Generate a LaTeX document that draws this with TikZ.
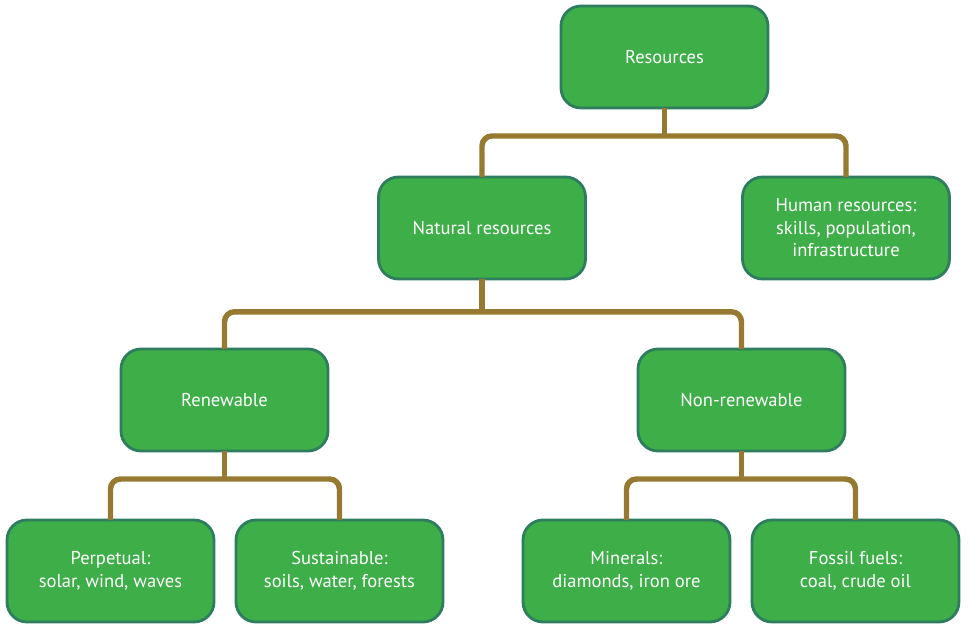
\documentclass[tikz,border=0pt]{standalone}
\usepackage{fontspec}
\setmainfont{PT Sans}
\usetikzlibrary{positioning}

\definecolor{boxfill}{HTML}{3DAE48}
\definecolor{boxline}{HTML}{2E7D5E}
\definecolor{linkcol}{HTML}{967A32}

\begin{document}
\begin{tikzpicture}[
    node distance=1.725cm,
    box/.style={draw=boxline, line width=2pt, fill=boxfill, rounded corners=0.5cm,
        minimum width=5.175cm, minimum height=2.55cm, align=center, outer sep=0pt,
        text=white, font=\fontsize{13.2}{16}\selectfont},
    link/.style={draw=linkcol, line width=3.9pt, rounded corners=0.25cm}
]
\useasboundingbox (-16.6125,1.425) rectangle (7.7625,-14.575);

\node[box] (res) {Resources};
\node[box, below=of res, xshift=-4.5625cm] (nat) {Natural resources};
\node[box, right=3.925cm of nat] (hum) {Human resources:\\ skills, population,\\ infrastructure};
\node[box, below=1.75cm of nat, xshift=-6.4375cm] (ren) {Renewable};
\node[box, below=1.75cm of nat, xshift=6.4875cm] (non) {Non-renewable};
\node[box, below=of ren, xshift=-2.85cm] (per) {Perpetual:\\ solar, wind, waves};
\node[box, right=0.55cm of per] (sus) {Sustainable:\\ soils, water, forests};
\node[box, below=of non, xshift=-2.875cm] (min) {Minerals:\\ diamonds, iron ore};
\node[box, right=0.55cm of min] (fos) {Fossil fuels:\\ coal, crude oil};

% branch points
\coordinate (j1) at ([yshift=-0.7cm]res.south);
\coordinate (j2) at ([yshift=-0.82cm]nat.south);
\coordinate (j3) at ([yshift=-0.7cm]ren.south);
\coordinate (j4) at ([yshift=-0.7cm]non.south);

\draw[link] (res.south) -- (j1);
\draw[link] (nat.north) |- (j1) -| (hum.north);
\draw[link] (nat.south) -- (j2);
\draw[link] (ren.north) |- (j2) -| (non.north);
\draw[link] (ren.south) -- (j3);
\draw[link] (per.north) |- (j3) -| (sus.north);
\draw[link] (non.south) -- (j4);
\draw[link] (min.north) |- (j4) -| (fos.north);
\end{tikzpicture}
\end{document}
